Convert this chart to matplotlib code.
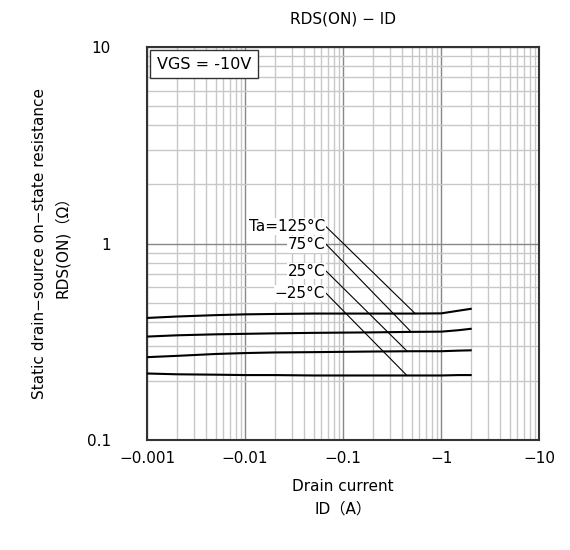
import matplotlib
matplotlib.use('Agg')
import matplotlib.pyplot as plt
import numpy as np

plt.rcParams['font.family'] = ['DejaVu Sans', 'Noto Sans CJK JP']

# drain current (A), negative as on the datasheet
drain_current = [-0.001, -0.002, -0.005, -0.01, -0.02, -0.05, -0.1, -0.2, -0.5, -1, -1.5, -2]

# RDS(ON) (ohm) for each ambient temperature
rds_125 = [0.418, 0.425, 0.432, 0.436, 0.438, 0.440, 0.440, 0.440, 0.440, 0.441, 0.455, 0.465]
rds_75 = [0.336, 0.341, 0.345, 0.347, 0.349, 0.351, 0.352, 0.353, 0.355, 0.356, 0.362, 0.368]
rds_25 = [0.264, 0.268, 0.274, 0.277, 0.279, 0.280, 0.281, 0.282, 0.283, 0.283, 0.285, 0.286]
rds_m25 = [0.218, 0.216, 0.215, 0.214, 0.214, 0.213, 0.213, 0.213, 0.213, 0.213, 0.214, 0.214]

temp_labels = ['Ta=125°C', '75°C', '25°C', '−25°C']
# leader lines: label anchor -> point on curve (|ID|, RDS)
label_start = [(0.067, 1.218), (0.067, 0.991), (0.067, 0.724), (0.067, 0.558)]
label_end = [(0.543, 0.440), (0.491, 0.356), (0.450, 0.283), (0.447, 0.213)]

x_ticks = [0.001, 0.01, 0.1, 1, 10]
x_ticklabels = ['−0.001', '−0.01', '−0.1', '−1', '−10']
y_ticks = [0.1, 1, 10]
y_ticklabels = ['0.1', '1', '10']

fig = plt.figure(figsize=(5.7, 5.5), dpi=100)
ax = fig.add_axes([0.258, 0.2, 0.688, 0.7145])

x = -np.array(drain_current)
for rds in [rds_125, rds_75, rds_25, rds_m25]:
    ax.plot(x, rds, color='black', lw=1.5, zorder=3)

for lab, (x0, y0), (x1, y1) in zip(temp_labels, label_start, label_end):
    ax.plot([x0, x1], [y0, y1], color='black', lw=0.8, zorder=3)
    ax.text(x0 * 0.98, y0, lab, ha='right', va='center', fontsize=11,
            bbox=dict(facecolor='white', edgecolor='none', pad=0.5), zorder=4)

ax.set_xscale('log')
ax.set_yscale('log')
ax.set_xlim(0.001, 10)
ax.set_ylim(0.1, 10)
ax.set_xticks(x_ticks)
ax.set_xticklabels(x_ticklabels)
ax.set_yticks(y_ticks)
ax.set_yticklabels(y_ticklabels)
ax.tick_params(which='both', length=0, labelsize=11)
ax.tick_params(axis='y', pad=26)
ax.tick_params(axis='x', pad=8)

ax.grid(True, which='major', color='#888888', lw=1.0)
ax.grid(True, which='minor', color='#c8c8c8', lw=1.0)
for s in ax.spines.values():
    s.set_color('#333333')
    s.set_linewidth(1.5)

ax.text(0.025, 0.975, 'VGS = -10V', transform=ax.transAxes, ha='left', va='top',
        fontsize=11.5, bbox=dict(facecolor='white', edgecolor='#333333', lw=1.0,
                                 boxstyle='square,pad=0.4'), zorder=5)

ax.set_title('RDS(ON) − ID', fontsize=11, pad=17)
ax.set_xlabel('Drain current\nID（A）', fontsize=11, labelpad=9, linespacing=1.7)
ax.set_ylabel('Static drain−source on−state resistance\nRDS(ON)（Ω）', fontsize=11,
              labelpad=12, linespacing=1.6)

fig.savefig('out.png', dpi=100)
